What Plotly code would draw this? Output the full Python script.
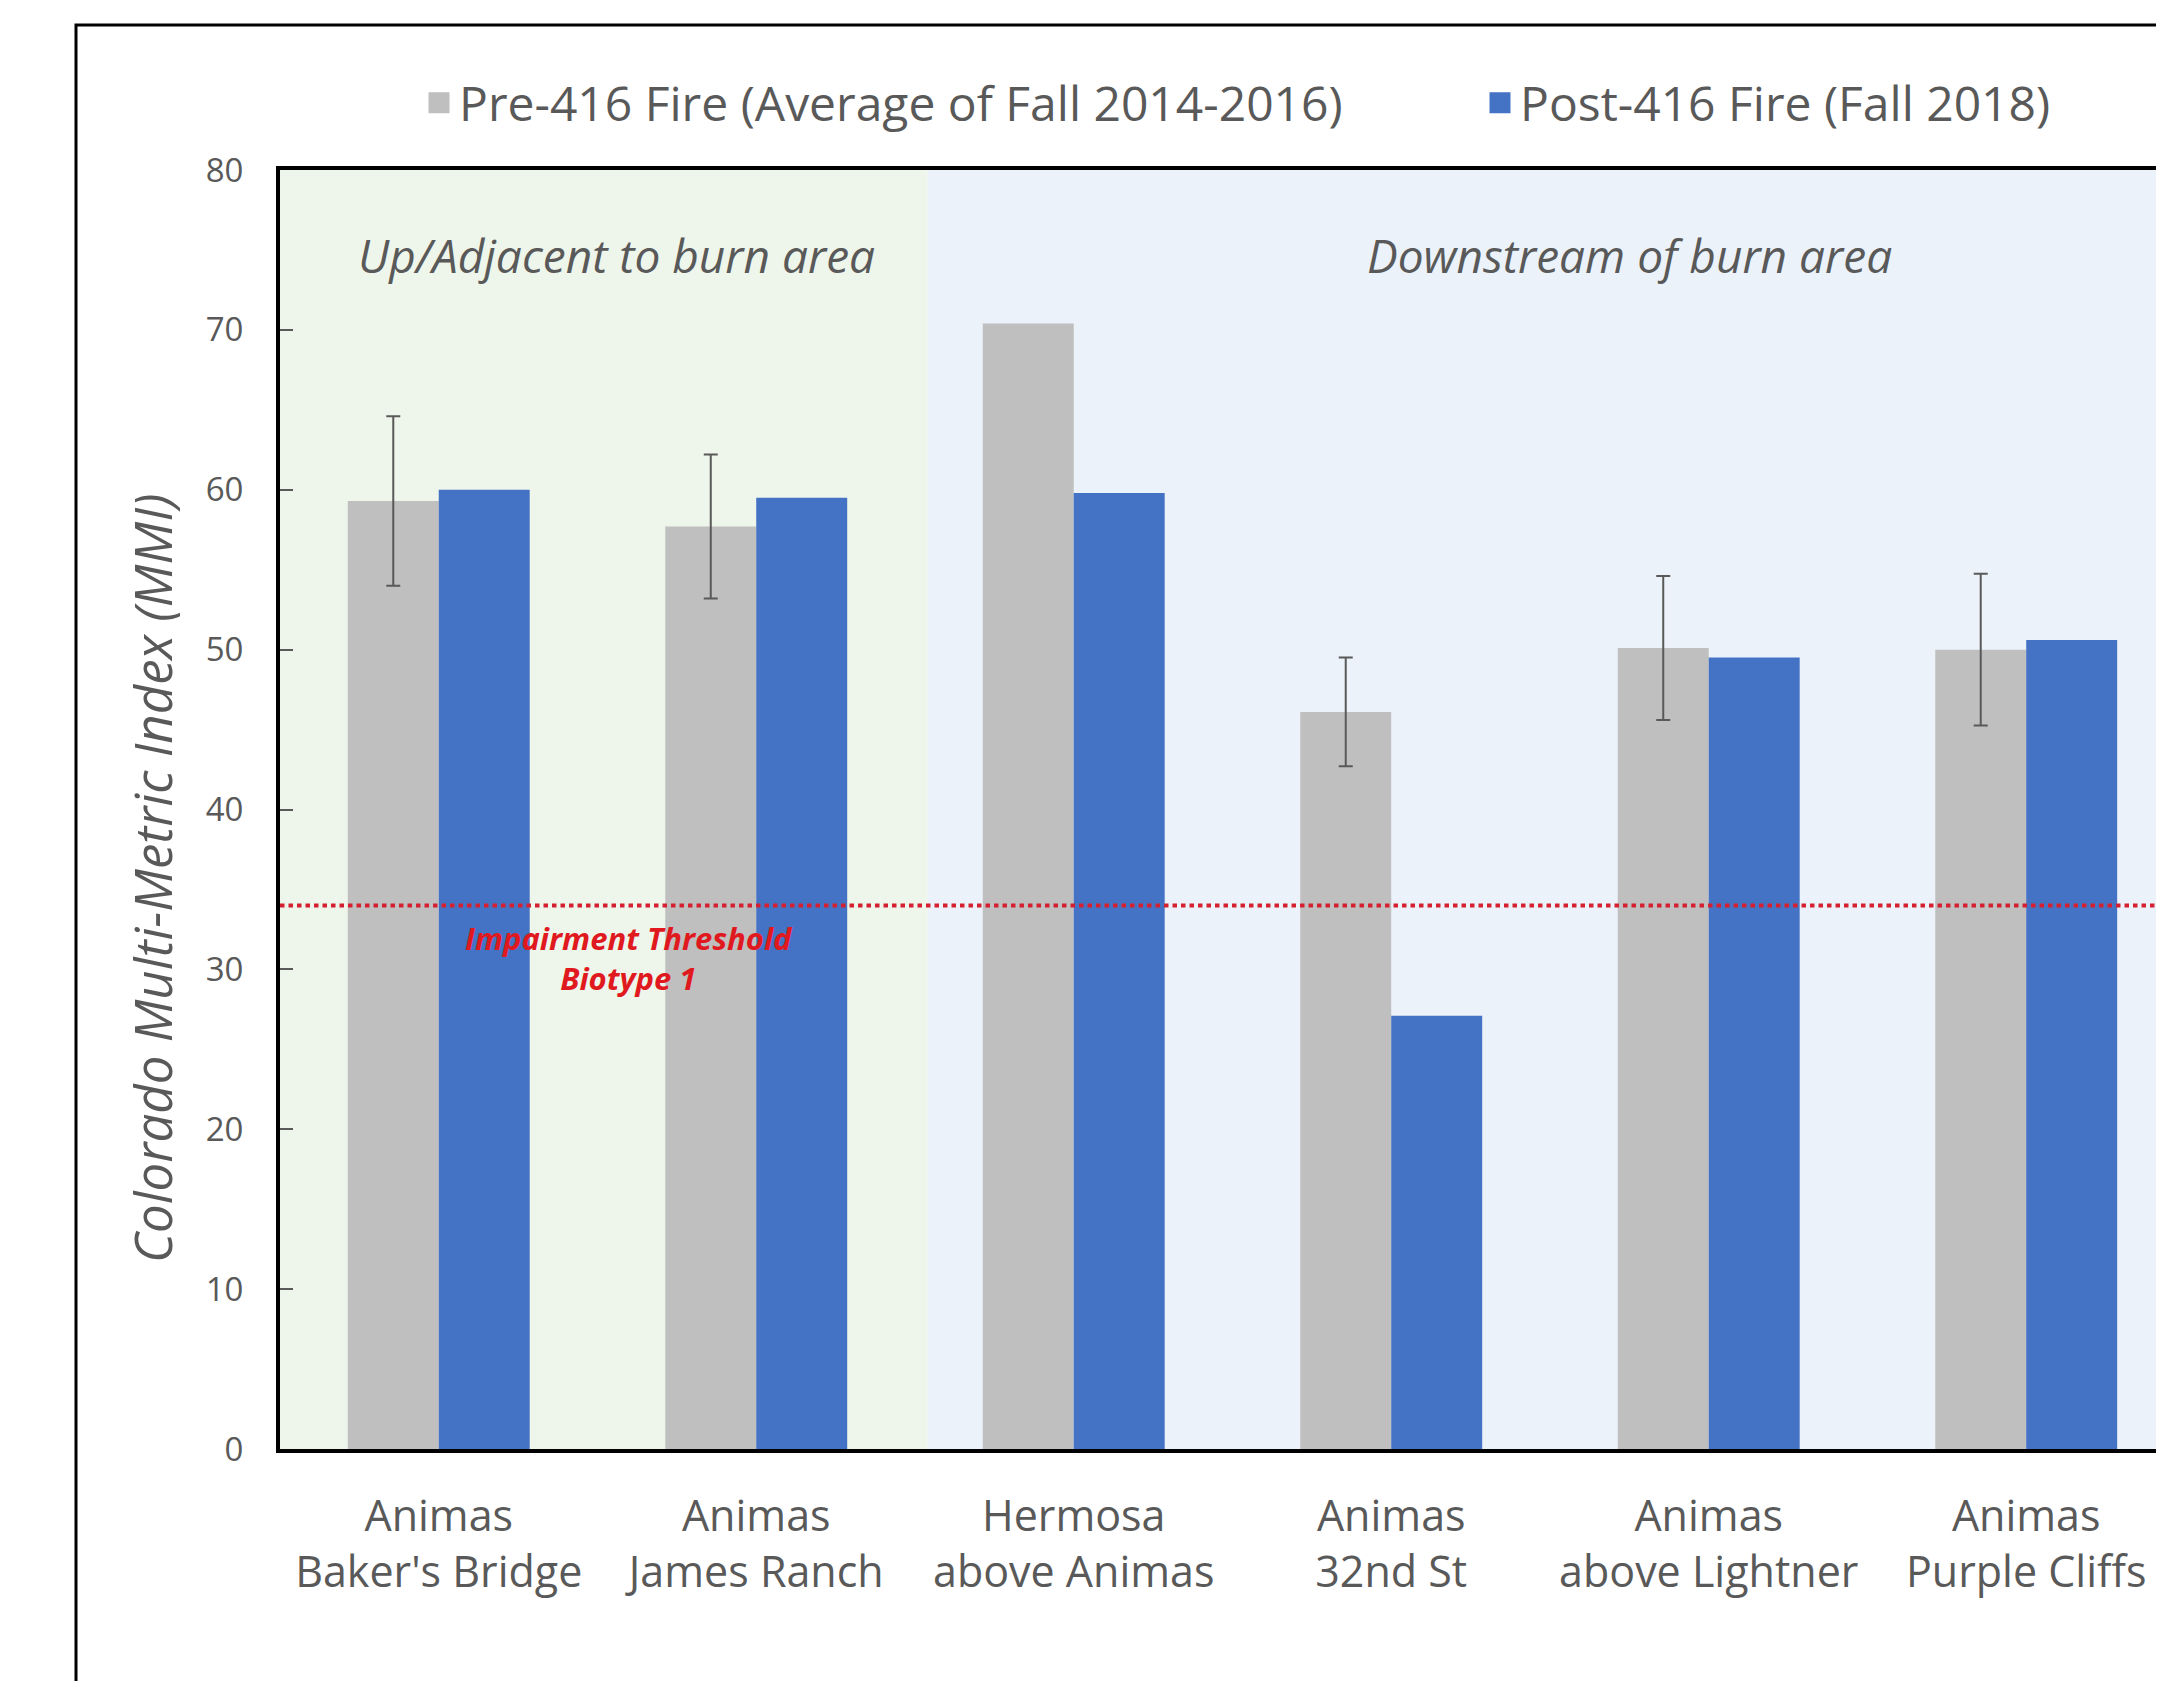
import numpy as np
import plotly.graph_objects as go

categories = ["Animas<br>Baker's Bridge", "Animas<br>James Ranch", "Hermosa<br>above Animas",
              "Animas<br>32nd St", "Animas<br>above Lightner", "Animas<br>Purple Cliffs"]
pre_fire = [59.3, 57.7, 70.4, 46.1, 50.1, 50.0]
pre_fire_err = [5.3, 4.5, np.nan, 3.4, 4.5, 4.75]   # no error bar for Hermosa
post_fire = [60.0, 59.5, 59.8, 27.1, 49.5, 50.6]
threshold = 34
y_ticks = [0, 10, 20, 30, 40, 50, 60, 70, 80]
pre_name = "Pre-416 Fire (Average of Fall 2014-2016)"
post_name = "Post-416 Fire (Fall 2018)"
y_title = "Colorado Multi-Metric Index (MMI)"

W, H = 2164, 1681
OFF = 8  # default page body margin
ML, MR, MT, MB = 272, 8, 162, 240
PW, PH = W - ML - MR, H - MT - MB

def px_x(px):
    return (px - OFF - ML) / PW

def px_y(py):
    return (H - MB - (py - OFF)) / PH

FONT = "Open Sans"
GREY_TXT = "#595959"
GREY_BAR = "#BFBFBF"
BLUE_BAR = "#4472C4"
RED = "#E0191F"
RED_LINE = "#D42030"
x_idx = list(range(len(categories)))

fig = go.Figure()
fig.add_trace(go.Bar(
    x=x_idx, y=pre_fire, name=pre_name, legendgroup="pre", showlegend=False,
    marker=dict(color=GREY_BAR, line=dict(width=0)),
    error_y=dict(type="data", array=np.array(pre_fire_err, dtype=float), symmetric=True,
                 color="#595959", thickness=2, width=7),
))
fig.add_trace(go.Bar(
    x=x_idx, y=post_fire, name=post_name, legendgroup="post", showlegend=False,
    marker=dict(color=BLUE_BAR, line=dict(width=0)),
))
# legend entries (square swatches)
fig.add_trace(go.Scatter(
    x=[None], y=[None], mode="markers", name=pre_name, legendgroup="pre", legend="legend",
    marker=dict(symbol="square", size=16, color=GREY_BAR, line=dict(color=GREY_BAR, width=5)),
))
fig.add_trace(go.Scatter(
    x=[None], y=[None], mode="markers", name=post_name, legendgroup="post", legend="legend2",
    marker=dict(symbol="square", size=16, color=BLUE_BAR, line=dict(color=BLUE_BAR, width=5)),
))

# background regions
fig.add_shape(type="rect", xref="x", yref="paper", x0=-0.5, x1=1.54, y0=0, y1=1,
              fillcolor="#EEF5EA", line=dict(width=0), layer="below")
fig.add_shape(type="rect", xref="x", yref="paper", x0=1.54, x1=5.6, y0=0, y1=1,
              fillcolor="#EBF2FA", line=dict(width=0), layer="below")
# threshold line
fig.add_shape(type="line", xref="paper", yref="y", x0=0, x1=1, y0=threshold, y1=threshold,
              line=dict(color=RED_LINE, width=4, dash="4.5px,4px"), layer="above")
# outer chart border (extends past the visible page)
fig.add_shape(type="rect", xref="paper", yref="paper",
              x0=px_x(76), x1=px_x(W + 60), y0=px_y(H + 60), y1=px_y(25),
              line=dict(color="black", width=3), fillcolor="rgba(0,0,0,0)")

fig.add_annotation(x=0.56, y=74.7, xref="x", yref="y", text="<i>Up/Adjacent to burn area</i>",
                   showarrow=False, font=dict(family=FONT, size=46, color=GREY_TXT))
fig.add_annotation(x=3.75, y=74.7, xref="x", yref="y", text="<i>Downstream of burn area</i>",
                   showarrow=False, font=dict(family=FONT, size=46, color=GREY_TXT))
fig.add_annotation(x=0.6, y=30.7, xref="x", yref="y",
                   text="<b><i>Impairment Threshold<br>Biotype 1</i></b>",
                   showarrow=False, align="center",
                   font=dict(family=FONT, size=31, color=RED))
# y-axis title (placed like the original, slightly below the plot's centre)
fig.add_annotation(x=px_x(152), y=px_y(878), xref="paper", yref="paper",
                   text="<i>" + y_title + "</i>", textangle=-90, showarrow=False,
                   xanchor="center", yanchor="middle",
                   font=dict(family=FONT, size=51, color=GREY_TXT))

legend_font = dict(family=FONT, size=48, color=GREY_TXT)
fig.update_layout(
    width=W, height=H,
    margin=dict(l=ML, r=MR, t=MT, b=MB, pad=0),
    paper_bgcolor="white", plot_bgcolor="white",
    barmode="group", bargap=0.427, bargroupgap=0,
    font=dict(family=FONT, color=GREY_TXT),
    showlegend=True,
    legend=dict(orientation="h", x=px_x(419), xanchor="left", y=px_y(103), yanchor="middle",
                font=legend_font, bgcolor="rgba(0,0,0,0)"),
    legend2=dict(orientation="h", x=px_x(1480), xanchor="left", y=px_y(103), yanchor="middle",
                 font=legend_font, bgcolor="rgba(0,0,0,0)"),
    xaxis=dict(range=[-0.5, 5.434], tickmode="array", tickvals=x_idx, ticktext=categories,
               showline=True, linecolor="black", linewidth=4, mirror=True,
               showgrid=False, zeroline=False, ticks="",
               tickfont=dict(family=FONT, size=43, color=GREY_TXT),
               ticklabelstandoff=26),
    yaxis=dict(range=[0, 80], tickvals=y_ticks,
               showline=True, linecolor="black", linewidth=4, mirror=False,
               showgrid=False, zeroline=False,
               ticks="inside", ticklen=13, tickwidth=2, tickcolor="#595959",
               tickfont=dict(family=FONT, size=33, color=GREY_TXT),
               ticklabelstandoff=26),
)

fig.write_html("out.html")
